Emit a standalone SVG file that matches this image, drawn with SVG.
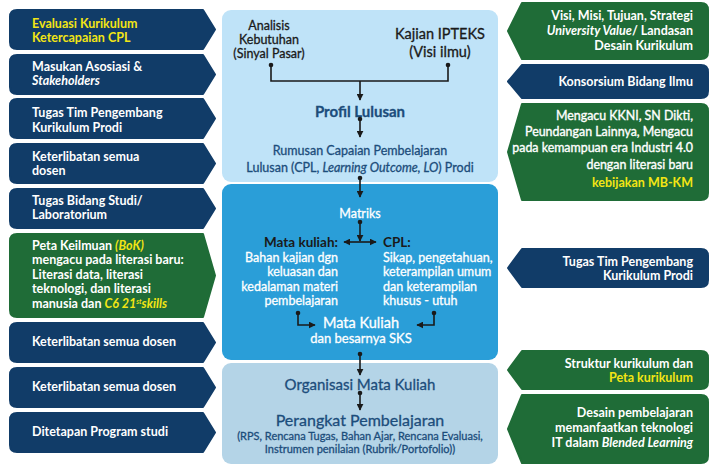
<svg xmlns="http://www.w3.org/2000/svg" width="711" height="466" viewBox="0 0 711 466">
<defs>
<style>
.nv{fill:#113c68;stroke:#113c68;stroke-width:2;stroke-linejoin:round}
.gr{fill:#1f6c37;stroke:#1f6c37;stroke-width:2;stroke-linejoin:round}
.t{font-family:Lato,"Liberation Sans",sans-serif;font-weight:bold;font-size:12.5px;fill:#ffffff}
.r{text-anchor:end}
.y{fill:#f3e514}
.i{font-style:italic}
.m{font-family:Lato,"Liberation Sans",sans-serif;font-weight:normal;font-size:12.4px;fill:#ffffff;stroke:#ffffff;stroke-width:0.35}
.dk{font-family:Lato,"Liberation Sans",sans-serif;fill:#1a1a1a;stroke:#1a1a1a;stroke-width:0.3;text-anchor:middle}
.bl{font-family:Lato,"Liberation Sans",sans-serif;fill:#1c4d7b;stroke:#1c4d7b;stroke-width:0.3;text-anchor:middle}
.wh{font-family:Lato,"Liberation Sans",sans-serif;fill:#ffffff;stroke:#ffffff;stroke-width:0.3;font-size:12.5px}
.ln{fill:none;stroke:#1a1a1a;stroke-width:1.6}
.dot{fill:#1a1a1a}
</style>
<marker id="ah" viewBox="0 0 10 10" refX="9" refY="5" markerWidth="7" markerHeight="7" markerUnits="userSpaceOnUse" orient="auto-start-reverse">
<path d="M0,0 L10,5 L0,10 Z" fill="#1a1a1a"/>
</marker>
</defs>
<rect width="711" height="466" fill="#ffffff"/>

<!-- center panels -->
<g id="panel-top"><rect x="222" y="10" width="276" height="172" rx="9" fill="#bfe3f8"/></g>
<g id="panel-mid"><rect x="222" y="184" width="276" height="176" rx="9" fill="#2a9ed8"/></g>
<g id="panel-bot"><rect x="222" y="363" width="276" height="101" rx="9" fill="#b4d4e7"/></g>

<!-- left nodes -->
<g id="l1"><path class="nv" d="M17,10 H203 L215,29.5 L203,49 H17 Q10,49 10,42 V17 Q10,10 17,10 Z"/>
<text class="t y" x="32" y="28">Evaluasi Kurikulum</text><text class="t y" x="32" y="42">Ketercapaian CPL</text></g>
<g id="l2"><path class="nv" d="M17,55 H203 L215,74.5 L203,94 H17 Q10,94 10,87 V62 Q10,55 17,55 Z"/>
<text class="t" x="32" y="71">Masukan Asosiasi &amp;</text><text class="t i" x="32" y="85">Stakeholders</text></g>
<g id="l3"><path class="nv" d="M17,99 H203 L215,118.5 L203,138 H17 Q10,138 10,131 V106 Q10,99 17,99 Z"/>
<text class="t" x="32" y="117">Tugas Tim Pengembang</text><text class="t" x="32" y="132">Kurikulum Prodi</text></g>
<g id="l4"><path class="nv" d="M17,144 H203 L215,163.5 L203,183 H17 Q10,183 10,176 V151 Q10,144 17,144 Z"/>
<text class="t" x="32" y="161">Keterlibatan semua</text><text class="t" x="32" y="175">dosen</text></g>
<g id="l5"><path class="nv" d="M17,189 H203 L215,208.5 L203,228 H17 Q10,228 10,221 V196 Q10,189 17,189 Z"/>
<text class="t" x="32" y="205">Tugas Bidang Studi/</text><text class="t" x="32" y="219">Laboratorium</text></g>
<g id="l6"><path class="gr" d="M17,234 H203 L215,275.5 L203,317 H17 Q10,317 10,310 V241 Q10,234 17,234 Z"/>
<text class="t" x="32" y="250">Peta Keilmuan <tspan class="y i">(BoK)</tspan></text>
<text class="t" x="32" y="264">mengacu pada literasi baru:</text>
<text class="t" x="32" y="279">Literasi data, literasi</text>
<text class="t" x="32" y="293">teknologi, dan literasi</text>
<text class="t" x="32" y="308">manusia dan <tspan class="y i">C6 21</tspan><tspan class="y i" font-size="7" dy="-4">st</tspan><tspan class="y i" dy="4">skills</tspan></text></g>
<g id="l7"><path class="nv" d="M17,323 H203 L215,342.5 L203,362 H17 Q10,362 10,355 V330 Q10,323 17,323 Z"/>
<text class="t" x="32" y="346">Keterlibatan semua dosen</text></g>
<g id="l8"><path class="nv" d="M17,368 H203 L215,387.5 L203,407 H17 Q10,407 10,400 V375 Q10,368 17,368 Z"/>
<text class="t" x="32" y="391">Keterlibatan semua dosen</text></g>
<g id="l9"><path class="nv" d="M17,413 H203 L215,432.5 L203,452 H17 Q10,452 10,445 V420 Q10,413 17,413 Z"/>
<text class="t" x="32" y="436">Ditetapan Program studi</text></g>

<!-- right nodes -->
<g id="r1"><path class="gr" d="M701,3 H522 L508,31 L522,59 H701 Q708,59 708,52 V10 Q708,3 701,3 Z"/>
<text class="t r" x="693" y="20">Visi, Misi, Tujuan, Strategi</text>
<text class="t r" x="693" y="35"><tspan class="i">University Value</tspan>/ Landasan</text>
<text class="t r" x="693" y="50">Desain Kurikulum</text></g>
<g id="r2"><path class="nv" d="M701,65 H522 L508,81.5 L522,98 H701 Q708,98 708,91 V72 Q708,65 701,65 Z"/>
<text class="t r" x="693" y="86">Konsorsium Bidang Ilmu</text></g>
<g id="r3"><path class="gr" d="M701,104 H522 L508,152 L522,200 H701 Q708,200 708,193 V111 Q708,104 701,104 Z"/>
<text class="m r" x="693" y="120">Mengacu KKNI, SN Dikti,</text>
<text class="m r" x="693" y="136">Peundangan Lainnya, Mengacu</text>
<text class="m r" x="693" y="152">pada kemampuan era Industri 4.0</text>
<text class="m r" x="693" y="169">dengan literasi baru</text>
<text class="t r y" x="693" y="187">kebijakan MB-KM</text></g>
<g id="r4"><path class="nv" d="M701,249 H522 L508,268 L522,287 H701 Q708,287 708,280 V256 Q708,249 701,249 Z"/>
<text class="t r" x="693" y="266">Tugas Tim Pengembang</text>
<text class="t r" x="693" y="280">Kurikulum Prodi</text></g>
<g id="r5"><path class="gr" d="M701,351 H522 L508,370 L522,389 H701 Q708,389 708,382 V358 Q708,351 701,351 Z"/>
<text class="t r" x="693" y="368">Struktur kurikulum dan</text>
<text class="t r y" x="693" y="382">Peta kurikulum</text></g>
<g id="r6"><path class="gr" d="M701,395 H522 L508,429 L522,463 H701 Q708,463 708,456 V402 Q708,395 701,395 Z"/>
<text class="t r" x="693" y="417">Desain pembelajaran</text>
<text class="t r" x="693" y="432">memanfaatkan teknologi</text>
<text class="t r" x="693" y="447">IT dalam <tspan class="i">Blended Learning</tspan></text></g>

<!-- center text nodes -->
<g id="analisis"><text class="dk" font-size="12.5"><tspan x="269" y="30">Analisis</tspan><tspan x="269" y="44">Kebutuhan</tspan><tspan x="269" y="58">(Sinyal Pasar)</tspan></text></g>
<g id="kajian"><text class="dk" font-size="14.5"><tspan x="440" y="39">Kajian IPTEKS</tspan><tspan x="440" y="57">(Visi ilmu)</tspan></text></g>
<g id="profil"><text class="bl" x="360" y="117" font-size="15" font-weight="bold" stroke-width="0">Profil Lulusan</text></g>
<g id="rumusan"><text class="bl" font-size="12.5"><tspan x="360" y="155">Rumusan Capaian Pembelajaran</tspan><tspan x="360" y="172">Lulusan (CPL, <tspan font-style="italic">Learning Outcome, LO</tspan>) Prodi</tspan></text></g>
<g id="matriks"><text class="wh" x="360" y="218" text-anchor="middle" font-size="15">Matriks</text></g>
<g id="matakuliah"><text class="wh" text-anchor="end"><tspan x="338" y="247" fill="#1a1a1a" stroke="none" font-weight="bold" font-size="13.5">Mata kuliah:</tspan><tspan x="338" y="262">Bahan kajian dgn</tspan><tspan x="338" y="276">keluasan dan</tspan><tspan x="338" y="291">kedalaman materi</tspan><tspan x="338" y="305">pembelajaran</tspan></text></g>
<g id="cpl"><text class="wh"><tspan x="383" y="247" fill="#1a1a1a" stroke="none" font-weight="bold" font-size="13.5">CPL:</tspan><tspan x="383" y="262">Sikap, pengetahuan,</tspan><tspan x="383" y="276">keterampilan umum</tspan><tspan x="383" y="291">dan keterampilan</tspan><tspan x="383" y="305">khusus - utuh</tspan></text></g>
<g id="sks"><text class="wh" text-anchor="middle"><tspan x="361" y="328" font-size="14.5">Mata Kuliah</tspan><tspan x="361" y="343" font-size="13">dan besarnya SKS</tspan></text></g>
<g id="organisasi"><text class="bl" x="360" y="390" font-size="15">Organisasi Mata Kuliah</text></g>
<g id="perangkat"><text class="bl" x="360" y="426" font-size="16">Perangkat Pembelajaran</text>
<text class="bl" font-size="11"><tspan x="360" y="440">(RPS, Rencana Tugas, Bahan Ajar, Rencana Evaluasi,</tspan><tspan x="360" y="453">Instrumen penilaian (Rubrik/Portofolio))</tspan></text></g>

<!-- connectors -->
<g id="connectors">
<circle class="dot" cx="271" cy="65" r="2.3"/><circle class="dot" cx="448" cy="65" r="2.3"/>
<path class="ln" d="M271,65 V81 H448 V65"/>
<path class="ln" d="M360,81 V100" marker-end="url(#ah)"/>
<circle class="dot" cx="360" cy="119" r="2.3"/>
<path class="ln" d="M360,119 V137" marker-end="url(#ah)"/>
<circle class="dot" cx="360" cy="178" r="2.3"/>
<path class="ln" d="M360,178 V197" marker-end="url(#ah)"/>
<circle class="dot" cx="360" cy="222" r="2.3"/>
<path class="ln" d="M360,222 V241" marker-end="url(#ah)"/>
<path class="ln" d="M344,242 H376" marker-start="url(#ah)" marker-end="url(#ah)"/>
<circle class="dot" cx="298" cy="313" r="2.3"/>
<path class="ln" d="M298,313 V325 H315" marker-end="url(#ah)"/>
<circle class="dot" cx="434" cy="313" r="2.3"/>
<path class="ln" d="M434,313 V325 H417" marker-end="url(#ah)"/>
<circle class="dot" cx="360" cy="354" r="2.3"/>
<path class="ln" d="M360,354 V375" marker-end="url(#ah)"/>
<circle class="dot" cx="360" cy="393" r="2.3"/>
<path class="ln" d="M360,393 V410" marker-end="url(#ah)"/>
</g>
</svg>
